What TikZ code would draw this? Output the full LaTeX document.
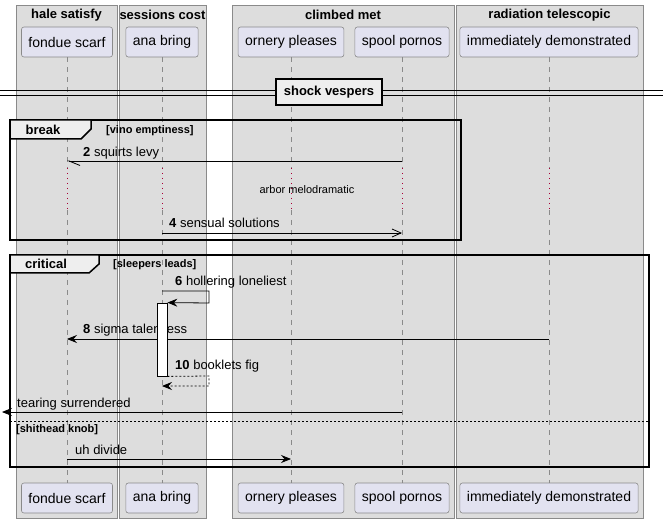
\documentclass[tikz,border=0pt]{standalone}
\usepackage{fontspec}
\setmainfont{Liberation Sans}
\usetikzlibrary{arrows.meta}

\definecolor{grpfill}{HTML}{DDDDDD}
\definecolor{grpline}{HTML}{8A8A8A}
\definecolor{partfill}{HTML}{E2E2F0}
\definecolor{partline}{HTML}{8A8A8A}
\definecolor{tabfill}{HTML}{EEEEEE}
\definecolor{delayred}{HTML}{A80036}
\definecolor{lifegray}{HTML}{8A8A8A}

\tikzset{
  part/.style={draw=partline, fill=partfill, rounded corners=2.5pt, minimum height=30pt,
    inner xsep=7pt, font=\fontsize{14}{16}\selectfont, line width=0.6pt},
  grp/.style={draw=grpline, fill=grpfill, line width=0.6pt},
  grptitle/.style={font=\fontsize{13}{15}\selectfont\bfseries, inner sep=0pt},
  life/.style={draw=lifegray, dash pattern=on 5pt off 5pt, line width=0.5pt},
  delayline/.style={draw=delayred, dash pattern=on 1.2pt off 3.8pt, line width=1pt},
  msg/.style={draw=black, line width=0.8pt},
  fillarrow/.style={-{Stealth[length=10pt,width=8pt,inset=3.5pt]}},
  openarrow/.style={-{Straight Barb[length=9pt,width=8pt]}},
  halfarrow/.style={-{Straight Barb[length=11pt,width=9pt,harpoon]}},
  mlabel/.style={font=\fontsize{13}{15}\selectfont, anchor=west, inner sep=0pt},
  guard/.style={font=\fontsize{11}{13}\selectfont\bfseries, anchor=west, inner sep=0pt},
  note/.style={font=\fontsize{11}{13}\selectfont, inner sep=0pt},
  frameline/.style={draw=black, line width=1.5pt},
  tab/.style={draw=black, fill=tabfill, line width=1.5pt},
  tabtitle/.style={font=\fontsize{13}{15}\selectfont\bfseries, inner sep=0pt},
  actbox/.style={draw=black, fill=white, line width=0.8pt, minimum width=10pt, inner sep=0pt},
}

\begin{document}
\begin{tikzpicture}[x=1pt, y=-1pt]
  \useasboundingbox (0,0) rectangle (665,524);

  % participant groups
  \draw[grp] (16,5) rectangle (117,518);
  \draw[grp] (119,5) rectangle (206,518);
  \draw[grp] (232,5) rectangle (454,518);
  \draw[grp] (456,5) rectangle (643,518);
  \node[grptitle] (g1) at (66.5,15) {hale satisfy};
  \node[grptitle] (g2) at (162.5,15) {sessions cost};
  \node[grptitle] (g3) at (343,15) {climbed met};
  \node[grptitle] (g4) at (549.5,15) {radiation telescopic};

  % participants, top and bottom
  \node[part] (p1) at (67,42) {fondue scarf};
  \node[part] (p2) at (162,42) {ana bring};
  \node[part] (p3) at (291,42) {ornery pleases};
  \node[part] (p4) at (402,42) {spool pornos};
  \node[part] (p5) at (549,42) {immediately demonstrated};
  \node[part] (q1) at (67,498) {fondue scarf};
  \node[part] (q2) at (162,498) {ana bring};
  \node[part] (q3) at (291,498) {ornery pleases};
  \node[part] (q4) at (402,498) {spool pornos};
  \node[part] (q5) at (549,498) {immediately demonstrated};

  % lifelines with the delay section
  \foreach \i in {1,...,5} {
    \draw[life] (p\i.south) -- (p\i |- 0,168);
    \draw[delayline] (p\i |- 0,168) -- (p\i |- 0,210);
    \draw[life] (p\i |- 0,210) -- (q\i.north);
  }

  % divider
  \coordinate (dl) at (0,93);
  \coordinate (dr) at (663,93);
  \draw[line width=0.8pt] ([yshift=-2.5pt]dl) -- ([yshift=-2.5pt]dr);
  \draw[line width=0.8pt] ([yshift=2.5pt]dl) -- ([yshift=2.5pt]dr);
  \node[draw=black, line width=1.5pt, fill=tabfill, minimum width=106pt, minimum height=26pt,
        inner sep=0pt, font=\fontsize{13}{15}\selectfont\bfseries] (div) at (329,92) {shock vespers};

  % break fragment
  \draw[frameline] (10,120) rectangle (461,240);
  \draw[tab] (10,120) -- (91,120) -- (91,129) -- (81,139) -- (10,139) -- cycle;
  \node[tabtitle] (brk) at (43,130) {break};
  \node[guard] (brkg) at (106,131) {[vino emptiness]};

  \node[mlabel] (l2) at (83,153) {\textbf{2} squirts levy};
  \draw[msg, halfarrow] (p4 |- 0,161) -- (p1 |- 0,161);
  \node[note] (delay) at (307,190) {arbor melodramatic};
  \node[mlabel] (l4) at (169,223) {\textbf{4} sensual solutions};
  \draw[msg, openarrow] (p2 |- 0,233) -- (p4 |- 0,233);

  % critical fragment
  \draw[frameline] (10,255) rectangle (649,467);
  \draw[tab] (10,255) -- (99,255) -- (99,264) -- (89,273) -- (10,273) -- cycle;
  \node[tabtitle] (crt) at (46,264) {critical};
  \node[guard] (crtg) at (113,265) {[sleepers leads]};

  \node[actbox, minimum height=73pt] (act) at (162,339.5) {};

  \node[mlabel] (l6) at (175,282) {\textbf{6} hollering loneliest};
  \draw[msg, fillarrow] (p2 |- 0,291) -- (209,291) -- (209,303) -- (act.north east);

  \node[mlabel] (l8) at (83,330) {\textbf{8} sigma talentless};
  \draw[msg, fillarrow] (p5 |- 0,339) -- (p1 |- 0,339);

  \node[actbox, minimum height=73pt] at (act) {};

  \node[mlabel] (l10) at (175,366) {\textbf{10} booklets fig};
  \draw[msg, fillarrow, dash pattern=on 2pt off 2pt] (act.south east) -- (209,376) -- (209,386) -- (p2 |- 0,386);

  \coordinate (lost) at (2,412);
  \node[mlabel] (lts) at (17,404) {tearing surrendered};
  \draw[msg, fillarrow] (p4 |- 0,412) -- (lost);

  \draw[line width=0.8pt, dash pattern=on 2pt off 2pt] (10,421) -- (649,421);
  \node[guard] (elseg) at (16,430) {[shithead knob]};

  \node[mlabel] (lud) at (75,450) {uh divide};
  \draw[msg, fillarrow] (p1 |- 0,459) -- (p3 |- 0,459);
\end{tikzpicture}
\end{document}
